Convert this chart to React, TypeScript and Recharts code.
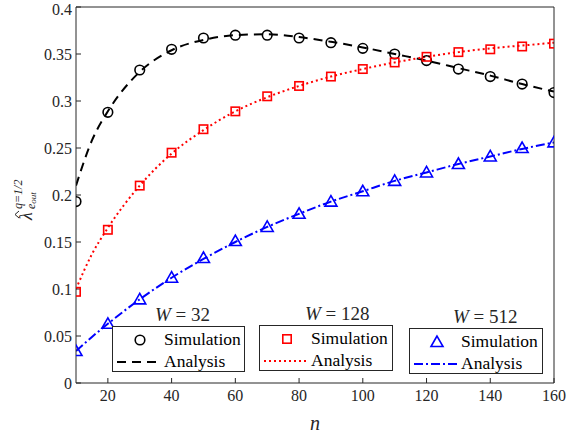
import React from 'react';
import { ComposedChart, Line, XAxis, YAxis } from 'recharts';

const nValues = [10, 20, 30, 40, 50, 60, 70, 80, 90, 100, 110, 120, 130, 140, 150, 160];

const simW32 = [0.193, 0.288, 0.333, 0.355, 0.367, 0.370, 0.370, 0.367, 0.362, 0.356, 0.350, 0.343, 0.334, 0.326, 0.318, 0.309];
const simW128 = [0.097, 0.163, 0.210, 0.245, 0.270, 0.289, 0.305, 0.316, 0.326, 0.334, 0.341, 0.347, 0.352, 0.355, 0.358, 0.361];
const simW512 = [0.034, 0.063, 0.089, 0.112, 0.133, 0.151, 0.166, 0.180, 0.193, 0.204, 0.215, 0.224, 0.233, 0.241, 0.250, 0.256];

const anaN = [10, 15, 20, 30, 40, 50, 60, 70, 80, 90, 100, 110, 120, 130, 140, 150, 160];
const anaW32 = [0.210, 0.258, 0.289, 0.331, 0.354, 0.365, 0.370, 0.371, 0.368, 0.363, 0.357, 0.350, 0.343, 0.335, 0.327, 0.318, 0.310];
const anaW128 = [0.100, 0.137, 0.165, 0.210, 0.244, 0.269, 0.289, 0.304, 0.316, 0.326, 0.334, 0.341, 0.347, 0.352, 0.356, 0.359, 0.362];
const anaW512 = [0.034, 0.049, 0.063, 0.089, 0.112, 0.132, 0.150, 0.166, 0.180, 0.193, 0.204, 0.215, 0.224, 0.233, 0.241, 0.249, 0.256];

const xTicks = [20, 40, 60, 80, 100, 120, 140, 160];
const yTicks = [0, 0.05, 0.1, 0.15, 0.2, 0.25, 0.3, 0.35, 0.4];

const toRows = (xs: number[], ys: number[]) => xs.map((n, i) => ({ n, v: ys[i] }));

const FONT = 'Liberation Serif';
const AXIS = '#262626';

const Circle = (props: any) => {
  const { cx, cy } = props;
  return <circle cx={cx} cy={cy} r={4.8} fill="none" stroke="#000" strokeWidth={1.6} />;
};
const Square = (props: any) => {
  const { cx, cy } = props;
  return <rect x={cx - 4.2} y={cy - 4.2} width={8.4} height={8.4} fill="none" stroke="#ff0000" strokeWidth={1.6} />;
};
const Triangle = (props: any) => {
  const { cx, cy } = props;
  return (
    <polygon
      points={`${cx},${cy - 6} ${cx - 6},${cy + 4.5} ${cx + 6},${cy + 4.5}`}
      fill="none"
      stroke="#0000ff"
      strokeWidth={1.6}
    />
  );
};

// rotated y label: hat lambda with q=1/2 superscript and e_out subscript
const YLabel = (props: any) => {
  const vb = props.viewBox || { x: 0, y: 0, height: 376 };
  const cx = vb.x + 22;
  const cy = vb.y + vb.height / 2;
  return (
    <g transform={`translate(${cx},${cy}) rotate(-90)`} fontFamily={FONT} fill={AXIS}>
      <text x={-25} y={10} fontSize={18} fontStyle="italic">λ</text>
      <polyline points="-23,-3 -19.5,-7 -16,-3" fill="none" stroke={AXIS} strokeWidth={1} />
      <text x={-14} y={0} fontSize={12} fontStyle="italic">q=1/2</text>
      <text x={-14} y={13} fontSize={12} fontStyle="italic">e<tspan fontSize={9} dy={1}>out</tspan></text>
    </g>
  );
};

type LegendProps = {
  left: number;
  top: number;
  width: number;
  wLabel: string;
  titleLeft: number;
  color: string;
  dash: string;
  marker: 'circle' | 'square' | 'triangle';
};

const LegendBox = ({ left, top, width, wLabel, titleLeft, color, dash, marker }: LegendProps) => (
  <>
    <div style={{ position: 'absolute', left: titleLeft, top: top - 21, fontFamily: FONT, fontSize: 19, lineHeight: '19px', color: AXIS, whiteSpace: 'nowrap' }}>
      <i>W</i>&nbsp;=&nbsp;{wLabel}
    </div>
    <div
      style={{
        position: 'absolute', left, top, width, height: 46, boxSizing: 'border-box',
        border: `1px solid ${AXIS}`, background: '#fff', fontFamily: FONT, fontSize: 17.5, lineHeight: '18px', color: '#000',
      }}
    >
      <svg width={50} height={46} style={{ position: 'absolute', left: 0, top: 0 }}>
        {marker === 'circle' && <Circle cx={27} cy={13} />}
        {marker === 'square' && <Square cx={27} cy={13} />}
        {marker === 'triangle' && <Triangle cx={27} cy={13} />}
        <line x1={4} x2={47} y1={35} y2={35} stroke={color} strokeWidth={2} strokeDasharray={dash} />
      </svg>
      <div style={{ position: 'absolute', left: 51, top: 3 }}>Simulation</div>
      <div style={{ position: 'absolute', left: 51, top: 25 }}>Analysis</div>
    </div>
  </>
);

export default function App() {
  const tickStyle = { fontFamily: FONT, fontSize: 16, fill: AXIS };
  return (
    <div style={{ position: 'absolute', left: 0, top: 0, width: 568, height: 436, background: '#fff' }}>
      <ComposedChart width={568} height={436} margin={{ top: 0, right: 0, bottom: 0, left: 0 }}>
        <XAxis
          xAxisId="b" dataKey="n" type="number" domain={[10, 160]} ticks={xTicks} allowDataOverflow
          height={53} tickSize={-5} tickMargin={12} tick={tickStyle}
          stroke={AXIS} tickLine={{ stroke: AXIS }}
          label={{ value: 'n', position: 'insideBottom', offset: 6, style: { fontFamily: FONT, fontSize: 20, fontStyle: 'italic', fill: AXIS } }}
        />
        <XAxis
          xAxisId="t" orientation="top" dataKey="n" type="number" domain={[10, 160]} ticks={xTicks}
          height={7} tickSize={-5} tickFormatter={() => ''} stroke={AXIS} tickLine={{ stroke: AXIS }}
        />
        <YAxis
          yAxisId="l" type="number" domain={[0, 0.4]} ticks={yTicks} allowDataOverflow
          width={76} tickSize={-5} tickMargin={9} tick={tickStyle}
          stroke={AXIS} tickLine={{ stroke: AXIS }} label={<YLabel />}
        />
        <YAxis
          yAxisId="r" orientation="right" type="number" domain={[0, 0.4]} ticks={yTicks}
          width={14} tickSize={-5} tickFormatter={() => ''} stroke={AXIS} tickLine={{ stroke: AXIS }}
        />

        <Line xAxisId="b" yAxisId="l" data={toRows(anaN, anaW32)} dataKey="v" type="monotone" stroke="#000" strokeWidth={2} strokeDasharray="9 6" dot={false} isAnimationActive={false} />
        <Line xAxisId="b" yAxisId="l" data={toRows(anaN, anaW128)} dataKey="v" type="monotone" stroke="#ff0000" strokeWidth={2} strokeDasharray="2 3" dot={false} isAnimationActive={false} />
        <Line xAxisId="b" yAxisId="l" data={toRows(anaN, anaW512)} dataKey="v" type="monotone" stroke="#0000ff" strokeWidth={2} strokeDasharray="9 3 2 3" dot={false} isAnimationActive={false} />

        <Line xAxisId="b" yAxisId="l" data={toRows(nValues, simW32)} dataKey="v" stroke="none" dot={<Circle />} isAnimationActive={false} />
        <Line xAxisId="b" yAxisId="l" data={toRows(nValues, simW128)} dataKey="v" stroke="none" dot={<Square />} isAnimationActive={false} />
        <Line xAxisId="b" yAxisId="l" data={toRows(nValues, simW512)} dataKey="v" stroke="none" dot={<Triangle />} isAnimationActive={false} />
      </ComposedChart>

      <LegendBox left={112} top={326} width={133} wLabel="32" titleLeft={155} color="#000" dash="9 6" marker="circle" />
      <LegendBox left={259} top={325} width={134} wLabel="128" titleLeft={305} color="#ff0000" dash="2 3" marker="square" />
      <LegendBox left={409} top={328} width={134} wLabel="512" titleLeft={453} color="#0000ff" dash="9 3 2 3" marker="triangle" />
    </div>
  );
}
